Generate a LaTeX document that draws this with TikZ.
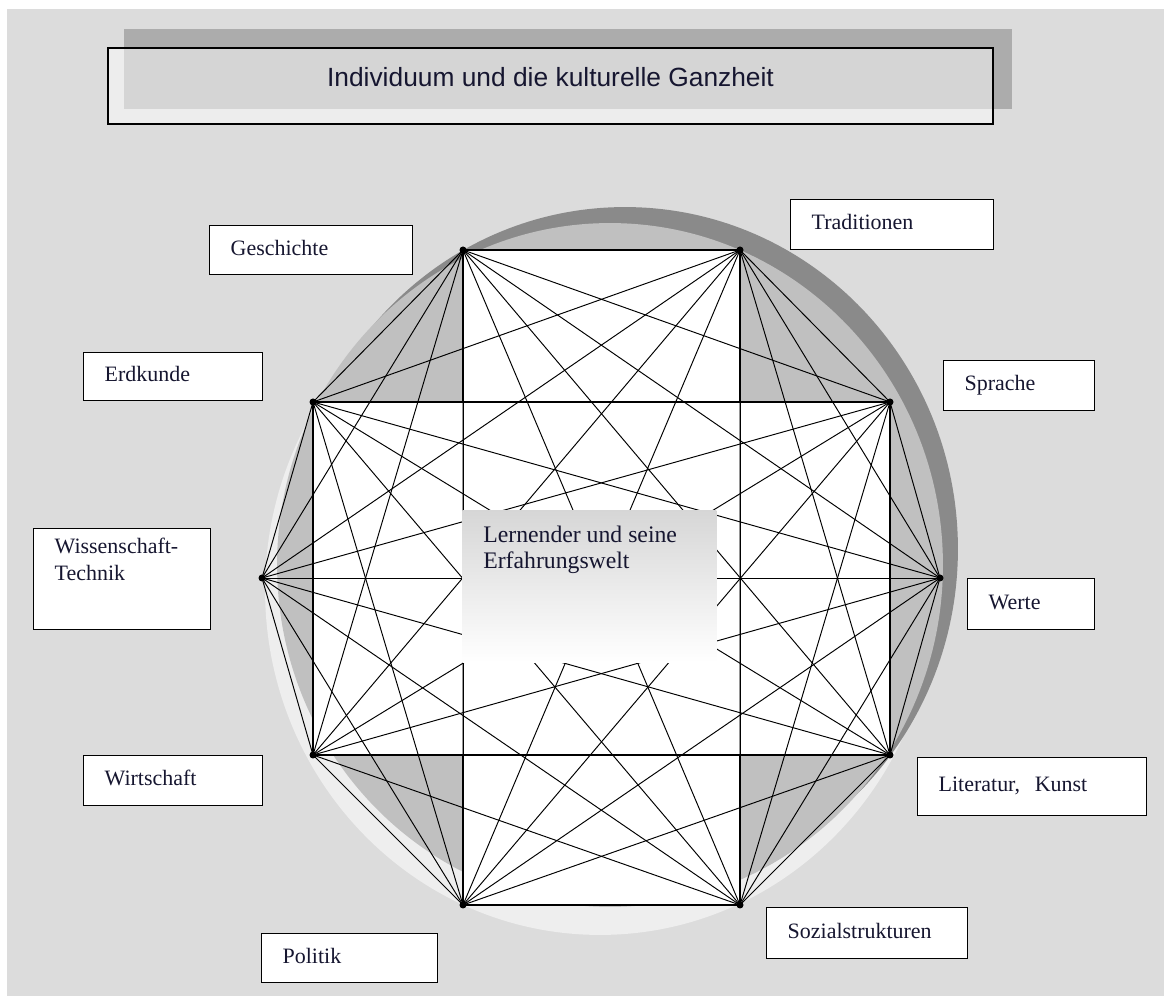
\documentclass[tikz,border=0pt]{standalone}
\usepackage{fontspec}
\setmainfont{Liberation Serif}
\newfontfamily\titlefont{Liberation Sans}
\usepackage{tikz}
\usetikzlibrary{calc}
\definecolor{bggrey}{RGB}{220,220,220}
\definecolor{shadowgrey}{RGB}{172,172,172}
\definecolor{ringdark}{RGB}{138,138,138}
\definecolor{ringmid}{RGB}{192,192,192}
\definecolor{ringlight}{RGB}{238,238,238}
\definecolor{innergrey}{RGB}{150,150,150}
\definecolor{inkblue}{RGB}{22,22,48}
\tikzset{
  lbl/.style={draw, fill=white, line width=0.8pt, anchor=north west, inner xsep=0.42cm, inner ysep=0pt, align=left, text height=1.6ex, text depth=0.4ex},
  edge/.style={line width=0.55pt}
}

\begin{document}
\begin{tikzpicture}[x=0.02cm, y=-0.02cm, every node/.style={font=\fontsize{12.5}{15}\selectfont, text=inkblue}]
\useasboundingbox (0,0) rectangle (1164,996);
\fill[white] (0,0) rectangle (1164,996);
\fill[bggrey] (7,9) rectangle (1164,996);

% title
\fill[shadowgrey] (124,29) rectangle (1012,109);
\node[draw, fill=white, fill opacity=0.5, text opacity=1, line width=0.8pt, minimum width=17.7cm, minimum height=1.52cm, text depth=0.36cm, font=\titlefont\fontsize{15}{18}\selectfont] (title) at (550.5,86) {Individuum und die kulturelle Ganzheit};

% disc with its two shadows
\fill[ringlight] (600,590) ellipse [x radius=6.7cm, y radius=6.9cm];
\fill[ringdark] (625,549) ellipse [x radius=6.66cm, y radius=6.84cm];
\fill[ringmid] (610,565) ellipse [x radius=6.66cm, y radius=6.84cm];

% corner points
\foreach \n/\x/\y in {1/463/250, 2/740/250, 3/890/402, 4/940/578, 5/890/755, 6/740/905, 7/463/905, 8/313/755, 9/262/578, 10/313/402}
  \coordinate (p\n) at (\x,\y);

% cross
\fill[white] (p1) rectangle (p6);
\fill[white] (p10) rectangle (p5);
\draw[innergrey, line width=0.8pt] (p1 |- p10) -- (p1 |- p8) (p2 |- p3) -- (p2 |- p5);
\draw[line width=0.8pt] (p10) rectangle (p5);
\draw[line width=0.8pt] (p1 |- p10) -- (p1) -- (p2) -- (p2 |- p3) (p7 |- p8) -- (p7) -- (p6) -- (p6 |- p5);

% every point joined to every other
\foreach \i in {1,...,9}{
  \pgfmathtruncatemacro\s{\i+1}
  \foreach \j in {\s,...,10}
    \draw[edge] (p\i) -- (p\j);
}
\foreach \n in {1,...,10}
  \fill (p\n) circle [radius=0.07cm];

% centre
\node[top color=gray!32, bottom color=white, minimum width=5.08cm, minimum height=3.04cm, anchor=north west, inner sep=0pt] (lern) at (462,510) {};
\node[anchor=north west, align=left, inner sep=0pt, font=\fontsize{13.5}{14.7}\selectfont] (lerntext) at ($(lern.north west)+(21,16)$) {Lernender und seine\\Erfahrungswelt};

% labels
\node[lbl, text width=3.22cm, minimum height=0.98cm] (gesch) at (209,225) {Geschichte};
\node[lbl, text width=3.22cm, minimum height=1.0cm] (trad) at (790,199) {Traditionen};
\node[lbl, text width=2.74cm, minimum height=0.96cm] (erd) at (83,352) {Erdkunde};
\node[lbl, text width=2.18cm, minimum height=1.0cm] (spr) at (943,360) {Sprache};
\node[lbl, text width=2.70cm, inner ysep=0.2cm, text height=0.3cm, text depth=1.32cm] (wiss) at (33,528) {Wissenschaft-\\Technik};
\node[lbl, text width=1.70cm, minimum height=1.02cm] (werte) at (967,578) {Werte};
\node[lbl, text width=2.74cm, minimum height=1.0cm] (wirt) at (83,755) {Wirtschaft};
\node[lbl, text width=3.74cm, minimum height=1.16cm] (lit) at (917,757) {Literatur,~ Kunst};
\node[lbl, text width=2.68cm, minimum height=0.98cm] (pol) at (261,933) {Politik};
\node[lbl, text width=3.18cm, minimum height=1.02cm] (soz) at (766,907) {Sozialstrukturen};
\end{tikzpicture}
\end{document}
